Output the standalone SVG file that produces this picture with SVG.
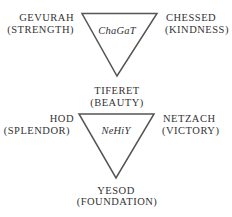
<svg xmlns="http://www.w3.org/2000/svg" width="232" height="217" viewBox="0 0 232 217">
<style>
text{font-family:"Liberation Serif","Times New Roman",serif;font-size:10.5px;letter-spacing:0.5px;fill:#333}
.i{font-style:italic;letter-spacing:0.2px}
.s{text-anchor:start}.e{text-anchor:end}.m{text-anchor:middle}
polygon{fill:none;stroke:#555;stroke-width:1.5;stroke-linejoin:miter}
</style>
<rect width="232" height="217" fill="#fff"/>
<g id="connectors">
<polygon points="82,13.5 157,13.5 117,76"/>
<polygon points="79,114 154,114 116,178"/>
</g>
<g id="gevurah"><text class="e" x="74" y="21">GEVURAH</text><text class="e" x="74" y="33">(STRENGTH)</text></g>
<g id="chessed"><text class="s" x="166" y="21">CHESSED</text><text class="s" x="165" y="33">(KINDNESS)</text></g>
<g id="chagat"><text class="m i" x="117" y="34">ChaGaT</text></g>
<g id="tiferet"><text class="m" x="117" y="94">TIFERET</text><text class="m" x="117" y="106">(BEAUTY)</text></g>
<g id="hod"><text class="e" x="74" y="122">HOD</text><text class="e" x="70" y="134">(SPLENDOR)</text></g>
<g id="netzach"><text class="s" x="163" y="122">NETZACH</text><text class="s" x="162" y="134">(VICTORY)</text></g>
<g id="nehiy"><text class="m i" x="116" y="134">NeHiY</text></g>
<g id="yesod"><text class="m" x="116" y="194">YESOD</text><text class="m" x="117" y="205">(FOUNDATION)</text></g>
</svg>
